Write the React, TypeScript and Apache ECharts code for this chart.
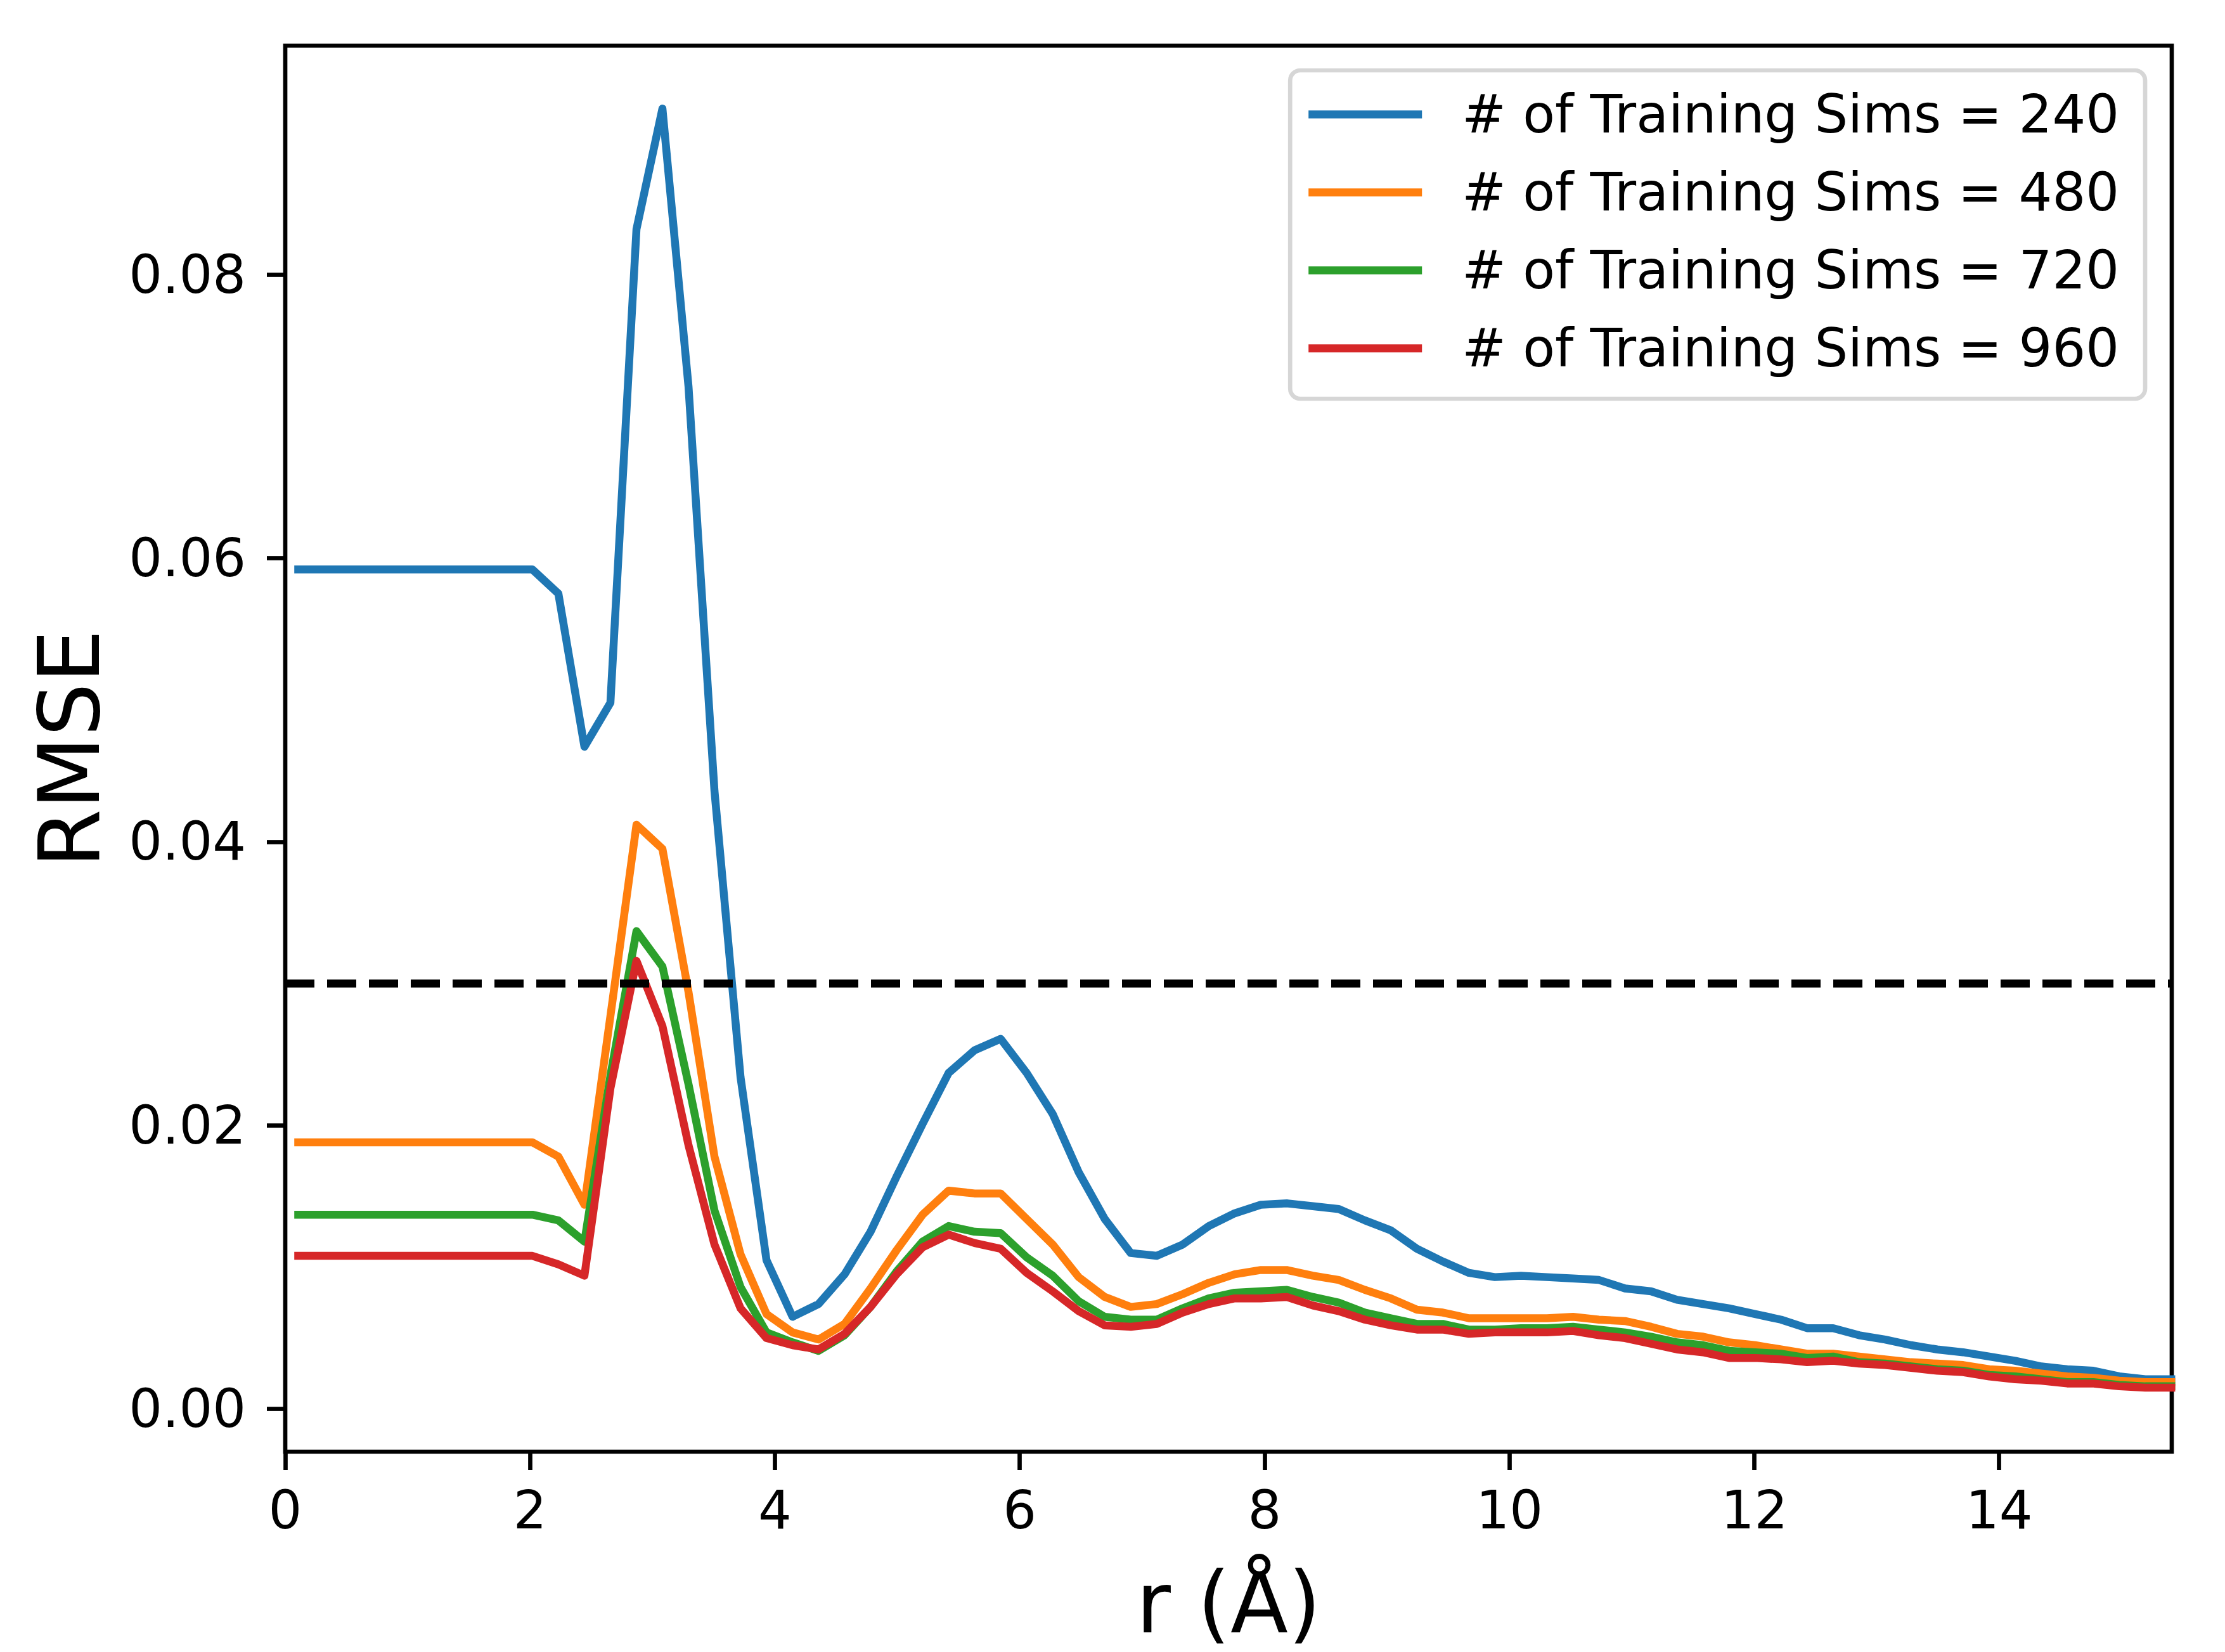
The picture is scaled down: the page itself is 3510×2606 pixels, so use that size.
import React, { useEffect, useRef } from "react";
import * as echarts from "echarts";

// r grid (Å)
const rValues = [
  0.106, 0.319, 0.531, 0.744, 0.956, 1.169, 1.381, 1.594, 1.806, 2.019,
  2.231, 2.444, 2.656, 2.869, 3.081, 3.294, 3.506, 3.719, 3.931, 4.144,
  4.356, 4.569, 4.781, 4.994, 5.206, 5.419, 5.631, 5.844, 6.056, 6.269,
  6.481, 6.694, 6.906, 7.119, 7.331, 7.544, 7.756, 7.969, 8.181, 8.394,
  8.606, 8.819, 9.031, 9.244, 9.456, 9.669, 9.881, 10.094, 10.306, 10.519,
  10.731, 10.944, 11.156, 11.369, 11.581, 11.794, 12.006, 12.219, 12.431, 12.644,
  12.856, 13.069, 13.281, 13.494, 13.706, 13.919, 14.131, 14.344, 14.556, 14.769,
  14.981, 15.194, 15.406,
];

const rmse240 = [
  0.0592, 0.0592, 0.0592, 0.0592, 0.0592, 0.0592, 0.0592, 0.0592, 0.0592, 0.0592,
  0.0575, 0.0467, 0.0498, 0.0832, 0.0917, 0.0721, 0.0436, 0.0234, 0.0105, 0.0065,
  0.0074, 0.0095, 0.0125, 0.0164, 0.0201, 0.0237, 0.0253, 0.0261, 0.0237, 0.0208,
  0.0167, 0.0134, 0.0110, 0.0108, 0.0116, 0.0129, 0.0138, 0.0144, 0.0145, 0.0143,
  0.0141, 0.0133, 0.0126, 0.0113, 0.0104, 0.0096, 0.0093, 0.0094, 0.0093, 0.0092,
  0.0091, 0.0085, 0.0083, 0.0077, 0.0074, 0.0071, 0.0067, 0.0063, 0.0057, 0.0057,
  0.0052, 0.0049, 0.0045, 0.0042, 0.0040, 0.0037, 0.0034, 0.0030, 0.0028, 0.0027,
  0.0023, 0.0021, 0.0021,
];

const rmse480 = [
  0.0188, 0.0188, 0.0188, 0.0188, 0.0188, 0.0188, 0.0188, 0.0188, 0.0188, 0.0188,
  0.0178, 0.0144, 0.0277, 0.0412, 0.0395, 0.0294, 0.0178, 0.0109, 0.0067, 0.0054,
  0.0049, 0.0060, 0.0085, 0.0112, 0.0137, 0.0154, 0.0152, 0.0152, 0.0134, 0.0116,
  0.0093, 0.0079, 0.0072, 0.0074, 0.0081, 0.0089, 0.0095, 0.0098, 0.0098, 0.0094,
  0.0091, 0.0084, 0.0078, 0.0070, 0.0068, 0.0064, 0.0064, 0.0064, 0.0064, 0.0065,
  0.0063, 0.0062, 0.0058, 0.0053, 0.0051, 0.0047, 0.0045, 0.0042, 0.0039, 0.0039,
  0.0037, 0.0035, 0.0033, 0.0032, 0.0031, 0.0028, 0.0027, 0.0025, 0.0023, 0.0022,
  0.0020, 0.0019, 0.0019,
];

const rmse720 = [
  0.0137, 0.0137, 0.0137, 0.0137, 0.0137, 0.0137, 0.0137, 0.0137, 0.0137, 0.0137,
  0.0133, 0.0118, 0.0235, 0.0337, 0.0312, 0.0229, 0.0140, 0.0086, 0.0054, 0.0047,
  0.0041, 0.0052, 0.0072, 0.0097, 0.0118, 0.0129, 0.0125, 0.0124, 0.0107, 0.0094,
  0.0076, 0.0065, 0.0063, 0.0063, 0.0071, 0.0078, 0.0082, 0.0083, 0.0084, 0.0079,
  0.0075, 0.0068, 0.0064, 0.0060, 0.0060, 0.0056, 0.0056, 0.0057, 0.0057, 0.0058,
  0.0056, 0.0054, 0.0051, 0.0047, 0.0045, 0.0041, 0.0040, 0.0039, 0.0036, 0.0037,
  0.0033, 0.0032, 0.0030, 0.0028, 0.0027, 0.0024, 0.0023, 0.0021, 0.0019, 0.0019,
  0.0017, 0.0016, 0.0016,
];

const rmse960 = [
  0.0108, 0.0108, 0.0108, 0.0108, 0.0108, 0.0108, 0.0108, 0.0108, 0.0108, 0.0108,
  0.0102, 0.0094, 0.0226, 0.0316, 0.0270, 0.0186, 0.0116, 0.0071, 0.0050, 0.0045,
  0.0042, 0.0053, 0.0072, 0.0095, 0.0114, 0.0123, 0.0117, 0.0113, 0.0096, 0.0083,
  0.0069, 0.0059, 0.0058, 0.0060, 0.0068, 0.0074, 0.0078, 0.0078, 0.0079, 0.0073,
  0.0069, 0.0063, 0.0059, 0.0056, 0.0056, 0.0053, 0.0054, 0.0054, 0.0054, 0.0055,
  0.0052, 0.0050, 0.0046, 0.0042, 0.0040, 0.0036, 0.0036, 0.0035, 0.0033, 0.0034,
  0.0032, 0.0031, 0.0029, 0.0027, 0.0026, 0.0023, 0.0021, 0.0020, 0.0018, 0.0018,
  0.0016, 0.0015, 0.0015,
];

const seriesNames = [
  "# of Training Sims = 240",
  "# of Training Sims = 480",
  "# of Training Sims = 720",
  "# of Training Sims = 960",
];
const seriesColors = ["#1f77b4", "#ff7f0e", "#2ca02c", "#d62728"];
const seriesValues = [rmse240, rmse480, rmse720, rmse960];

const threshold = 0.03;
const xTicks = [0, 2, 4, 6, 8, 10, 12, 14];
const yTicks = [0, 0.02, 0.04, 0.06, 0.08];
const xMin = 0;
const xMax = 15.41;
const yMin = -0.00301;
const yMax = 0.09614;

const FONT = "DejaVu Sans";

export default function App() {
  const ref = useRef<HTMLDivElement>(null);

  useEffect(() => {
    if (!ref.current) return;
    const chart = echarts.init(ref.current, undefined, { renderer: "svg" });

    const lineSeries = seriesValues.map((vals, i) => ({
      name: seriesNames[i],
      type: "line",
      data: rValues.map((r, j) => [r, vals[j]]),
      symbol: "none",
      showSymbol: false,
      color: seriesColors[i],
      itemStyle: { color: seriesColors[i] },
      lineStyle: {
        color: seriesColors[i],
        width: 12.5,
        cap: "square",
        join: "round",
      },
      z: 2 + i,
    }));

    const option: any = {
      animation: false,
      backgroundColor: "#ffffff",
      grid: {
        left: 450,
        right: 84,
        top: 72,
        bottom: 316,
        show: true,
        borderColor: "#000000",
        borderWidth: 6.7,
        backgroundColor: "transparent",
      },
      legend: {
        orient: "vertical",
        right: 126,
        top: 111,
        icon: "rect",
        itemWidth: 179,
        itemHeight: 12.5,
        itemGap: 40,
        padding: [28, 41, 38, 29],
        backgroundColor: "rgba(255,255,255,0.8)",
        borderColor: "#d6d6d6",
        borderWidth: 6.7,
        borderRadius: 16,
        itemStyle: { borderWidth: 0 },
        textStyle: {
          fontFamily: FONT,
          fontSize: 83,
          color: "#000000",
          padding: [0, 0, 0, 58],
        },
        data: seriesNames,
      },
      xAxis: {
        type: "value",
        min: xMin,
        max: xMax,
        name: "r (Å)",
        nameLocation: "middle",
        nameGap: 172,
        nameTextStyle: { fontFamily: FONT, fontSize: 133, color: "#000000", lineHeight: 133 },
        axisLine: { show: false, onZero: false },
        splitLine: { show: false },
        axisTick: {
          show: true,
          inside: false,
          length: 29,
          customValues: xTicks,
          lineStyle: { color: "#000000", width: 6.7 },
        },
        axisLabel: {
          customValues: xTicks,
          margin: 51,
          fontFamily: FONT,
          fontSize: 83,
          color: "#000000",
        },
      },
      yAxis: {
        type: "value",
        min: yMin,
        max: yMax,
        name: "RMSE",
        nameLocation: "middle",
        nameGap: 274,
        nameTextStyle: { fontFamily: FONT, fontSize: 133, color: "#000000" },
        axisLine: { show: false, onZero: false },
        splitLine: { show: false },
        axisTick: {
          show: true,
          inside: false,
          length: 29,
          customValues: yTicks,
          lineStyle: { color: "#000000", width: 6.7 },
        },
        axisLabel: {
          customValues: yTicks,
          margin: 62,
          fontFamily: FONT,
          fontSize: 83,
          color: "#000000",
          formatter: (v: number) => v.toFixed(2),
        },
      },
      series: [
        ...lineSeries,
        {
          name: "threshold",
          type: "line",
          data: [
            [xMin, threshold],
            [xMax, threshold],
          ],
          symbol: "none",
          silent: true,
          lineStyle: { color: "#000000", width: 12.5, type: [46, 20], cap: "butt" },
          z: 10,
        },
      ],
    };

    chart.setOption(option);
    return () => {
      chart.dispose();
    };
  }, []);

  return (
    <div
      ref={ref}
      style={{
        position: "fixed",
        left: 0,
        top: 0,
        width: 3510,
        height: 2606,
        background: "#ffffff",
      }}
    />
  );
}
